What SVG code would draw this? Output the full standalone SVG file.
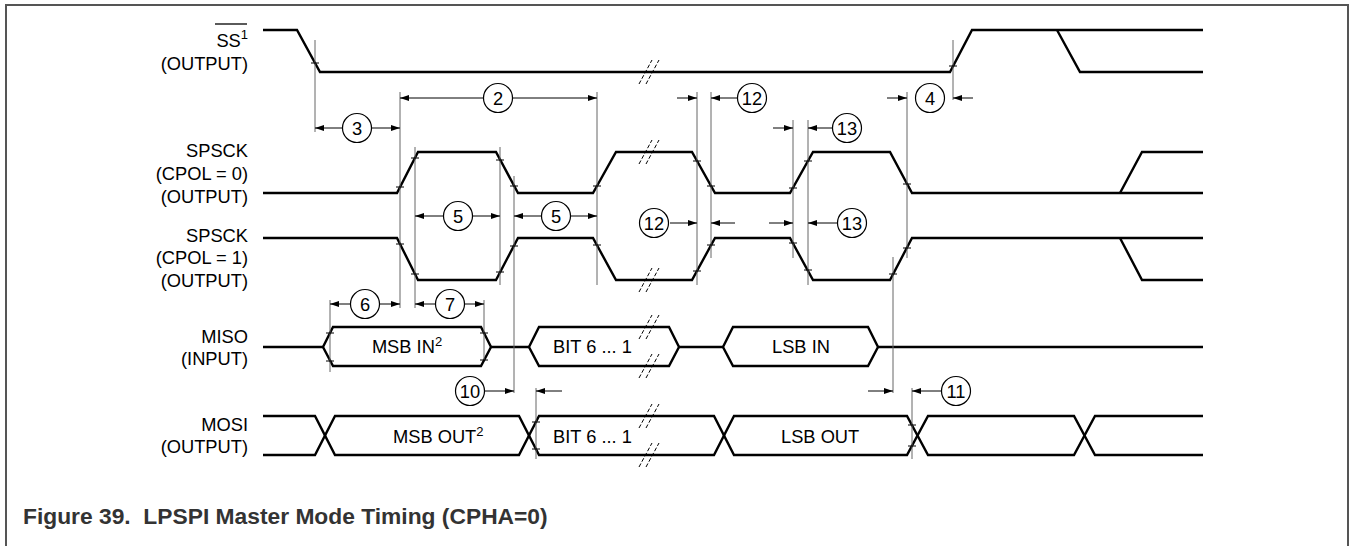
<svg xmlns="http://www.w3.org/2000/svg" width="1354" height="546" viewBox="0 0 1354 546">
<style>
.sig{fill:none;stroke:#000;stroke-width:2.4;stroke-linejoin:miter}
.ext{fill:none;stroke:#666;stroke-width:1}
.tick{fill:none;stroke:#000;stroke-width:1}
.dim{fill:none;stroke:#000;stroke-width:1;marker-end:url(#ah)}
.brk{fill:none;stroke:#000;stroke-width:1;stroke-dasharray:4 2}
.num circle{fill:#fff;stroke:#000;stroke-width:1.2}
text{font-family:"Liberation Sans",Arial,Helvetica,sans-serif;font-size:18.3px;fill:#000}
.r{text-anchor:end}
.m{text-anchor:middle}
.cap{font-weight:bold;font-size:22.8px;fill:#333}
</style>
<defs>
<marker id="ah" markerUnits="userSpaceOnUse" markerWidth="9" markerHeight="6" refX="9" refY="3" orient="auto">
<path d="M0,0 L9,3 L0,6 z" fill="#000"/>
</marker>
</defs>
<rect x="0" y="0" width="1354" height="546" fill="#fff"/>
<path d="M6,546 V5 H1348 V546" fill="none" stroke="#555" stroke-width="2"/>

<g id="labels">
<text class="r" x="248" y="47">SS<tspan font-size="13" dy="-8">1</tspan></text>
<line x1="215" y1="24" x2="247" y2="24" stroke="#000" stroke-width="1.3"/>
<text class="r" x="248" y="70">(OUTPUT)</text>
<text class="r" x="248" y="157">SPSCK</text>
<text class="r" x="248" y="180">(CPOL = 0)</text>
<text class="r" x="248" y="203">(OUTPUT)</text>
<text class="r" x="248" y="242">SPSCK</text>
<text class="r" x="248" y="264">(CPOL = 1)</text>
<text class="r" x="248" y="287">(OUTPUT)</text>
<text class="r" x="248" y="343">MISO</text>
<text class="r" x="248" y="365">(INPUT)</text>
<text class="r" x="248" y="431">MOSI</text>
<text class="r" x="248" y="453">(OUTPUT)</text>
</g>

<g id="sig-ss">
<path class="sig" d="M263,30 H297 L320,72 H950 L972,30 H1203"/>
<path class="sig" d="M1057,30 L1080,72 H1203"/>
</g>
<g id="sig-cpol0">
<path class="sig" d="M263,193 H397 L418,152 H496 L518,193 H593 L616,152 H692 L715,193 H790 L813,152 H890 L912,193 H1203"/>
<path class="sig" d="M1120,193 L1142,152 H1203"/>
</g>
<g id="sig-cpol1">
<path class="sig" d="M263,238 H397 L418,280 H496 L518,238 H593 L616,280 H692 L715,238 H790 L813,280 H890 L912,238 H1203"/>
<path class="sig" d="M1120,238 L1142,280 H1203"/>
</g>
<g id="sig-miso">
<path class="sig" d="M263,347 H323 M491,347 H529 M679,347 H723 M878,347 H1203"/>
<path class="sig" d="M323,347 L333,327 H481 L491,347 L481,366 H333 Z"/>
<path class="sig" d="M529,347 L539,327 H669 L679,347 L669,366 H539 Z"/>
<path class="sig" d="M723,347 L733,327 H868 L878,347 L868,366 H733 Z"/>
<text x="407" y="353" class="m">MSB IN<tspan font-size="13" dy="-7">2</tspan></text>
<text x="553" y="353">BIT 6 ... 1</text>
<text x="772" y="353">LSB IN</text>
</g>
<g id="sig-mosi">
<path class="sig" d="M263,416 H315 L335,455 H519 L539,416 H714 L734,455 H907 L928,416 H1074 L1095,455 H1203"/>
<path class="sig" d="M263,455 H315 L335,416 H519 L539,455 H714 L734,416 H907 L928,455 H1074 L1095,416 H1203"/>
<text x="393" y="443">MSB OUT<tspan font-size="13" dy="-7">2</tspan></text>
<text x="553" y="443">BIT 6 ... 1</text>
<text x="781" y="443">LSB OUT</text>
</g>

<g id="breaks">
<path class="brk" d="M639,84 L652,60 M646,84 L659,60"/>
<path class="brk" d="M639,164 L652,140 M646,164 L659,140"/>
<path class="brk" d="M639,292 L652,268 M646,292 L659,268"/>
<path class="brk" d="M639,339 L652,315 M646,339 L659,315"/>
<path class="brk" d="M639,378 L652,354 M646,378 L659,354"/>
<path class="brk" d="M639,428 L652,404 M646,428 L659,404"/>
<path class="brk" d="M639,467 L652,443 M646,467 L659,443"/>
</g>

<g id="connectors">
<path class="ext" d="M315,40 V132 M400,92 V308 M415,147 V308 M500,147 V285 M514,176 V393 M597,92 V285 M697,92 V285 M711,92 V258 M793,120 V258 M808,120 V285 M907,92 V258 M953,40 V100 M330,300 V372 M484,300 V360 M893,257 V393 M536,388 V459 M912,388 V459"/>
<path class="tick" d="M311,63 H319 M396,187 H404 M396,244 H404 M411,158 H419 M411,274 H419 M496,160 H504 M496,272 H504 M510,186 H518 M510,246 H518 M593,186 H601 M593,245 H601 M693,161 H701 M693,271 H701 M707,186 H715 M707,245 H715 M789,188 H797 M789,243 H797 M804,161 H812 M804,270 H812 M903,184 H911 M903,248 H911 M949,66 H957 M326,333 H334 M326,361 H334 M480,333 H488 M480,360 H488 M889,274 H897 M532,422 H540 M532,449 H540 M908,425 H916 M908,446 H916"/>
<path class="dim" d="M343,128 H315"/>
<path class="dim" d="M372,128 H400"/>
<path class="dim" d="M483,98 H400"/>
<path class="dim" d="M513,98 H597"/>
<path class="dim" d="M677,98 H697"/>
<path class="dim" d="M737,98 H711"/>
<path class="dim" d="M773,128 H793"/>
<path class="dim" d="M832,128 H808"/>
<path class="dim" d="M887,98 H907"/>
<path class="dim" d="M973,98 H953"/>
<path class="dim" d="M443,216 H415"/>
<path class="dim" d="M473,216 H500"/>
<path class="dim" d="M541,216 H514"/>
<path class="dim" d="M571,216 H597"/>
<path class="dim" d="M670,223 H697"/>
<path class="dim" d="M735,223 H711"/>
<path class="dim" d="M769,223 H793"/>
<path class="dim" d="M837,223 H808"/>
<path class="dim" d="M350,304 H330"/>
<path class="dim" d="M380,304 H400"/>
<path class="dim" d="M435,304 H415"/>
<path class="dim" d="M465,304 H484"/>
<path class="dim" d="M485,391 H514"/>
<path class="dim" d="M562,391 H536"/>
<path class="dim" d="M868,391 H893"/>
<path class="dim" d="M941,391 H912"/>
</g>

<g id="n3" class="num"><circle cx="357" cy="128" r="14.5"/><text class="m" x="357" y="134.5">3</text></g>
<g id="n2" class="num"><circle cx="498" cy="98" r="14.5"/><text class="m" x="498" y="104.5">2</text></g>
<g id="n12a" class="num"><circle cx="752" cy="98" r="14.5"/><text class="m" x="752" y="104.5">12</text></g>
<g id="n13a" class="num"><circle cx="847" cy="128" r="14.5"/><text class="m" x="847" y="134.5">13</text></g>
<g id="n4" class="num"><circle cx="930" cy="98" r="14.5"/><text class="m" x="930" y="104.5">4</text></g>
<g id="n5a" class="num"><circle cx="458" cy="216" r="14.5"/><text class="m" x="458" y="222.5">5</text></g>
<g id="n5b" class="num"><circle cx="556" cy="216" r="14.5"/><text class="m" x="556" y="222.5">5</text></g>
<g id="n12b" class="num"><circle cx="654" cy="223" r="14.5"/><text class="m" x="654" y="229.5">12</text></g>
<g id="n13b" class="num"><circle cx="852" cy="223" r="14.5"/><text class="m" x="852" y="229.5">13</text></g>
<g id="n6" class="num"><circle cx="365" cy="304" r="14.5"/><text class="m" x="365" y="310.5">6</text></g>
<g id="n7" class="num"><circle cx="450" cy="304" r="14.5"/><text class="m" x="450" y="310.5">7</text></g>
<g id="n10" class="num"><circle cx="470" cy="391" r="14.5"/><text class="m" x="470" y="397.5">10</text></g>
<g id="n11" class="num"><circle cx="956" cy="391" r="14.5"/><text class="m" x="956" y="397.5">11</text></g>

<g id="caption">
<text class="cap" x="23" y="524" xml:space="preserve">Figure 39.  LPSPI Master Mode Timing (CPHA=0)</text>
</g>
</svg>
